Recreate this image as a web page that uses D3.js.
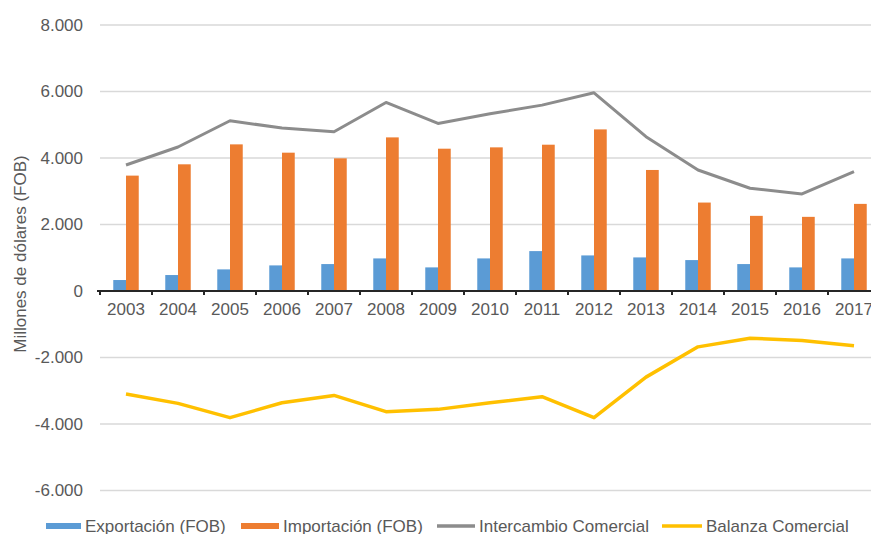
<!DOCTYPE html>
<html>
<head>
<meta charset="utf-8">
<script src="https://cdn.jsdelivr.net/npm/d3@7"></script>
<style>
  body { margin: 0; background: #fff; }
  text { font-family: "Liberation Sans", Arial, sans-serif; fill: #595959; }
</style>
</head>
<body>
<div id="chart"></div>
<script>
// data (millions of USD, FOB)
var years = ['2003','2004','2005','2006','2007','2008','2009','2010','2011','2012','2013','2014','2015','2016','2017'];
var exportacion = [330, 480, 650, 770, 810, 980, 710, 980, 1200, 1070, 1010, 930, 810, 710, 980];
var importacion = [3470, 3810, 4410, 4160, 3990, 4620, 4280, 4320, 4400, 4860, 3640, 2660, 2260, 2230, 2620];
var intercambio = [3790, 4330, 5120, 4900, 4790, 5670, 5040, 5330, 5590, 5960, 4640, 3640, 3090, 2920, 3590];
var balanza = [-3100, -3380, -3810, -3360, -3140, -3630, -3560, -3360, -3180, -3810, -2590, -1680, -1420, -1490, -1650];
var yTicks = [-6000, -4000, -2000, 0, 2000, 4000, 6000, 8000];

var width = 871, height = 534;
var margin = {top: 25, right: -9, bottom: 43.5, left: 100};
var fontSize = '17px';

var svg = d3.select('#chart').append('svg')
    .attr('width', width)
    .attr('height', height);

var x = d3.scaleBand()
    .domain(years)
    .range([margin.left, width - margin.right]);

var y = d3.scaleLinear()
    .domain([-6000, 8000])
    .range([height - margin.bottom, margin.top]);

var locale = d3.formatLocale({decimal: ',', thousands: '.', grouping: [3], currency: ['', ''], minus: '-'});
var fmt = locale.format(',d');

// gridlines
svg.append('g')
    .selectAll('line')
    .data(yTicks.filter(function(d){ return d !== 0; }))
    .join('line')
    .attr('x1', margin.left)
    .attr('x2', width)
    .attr('y1', function(d){ return y(d); })
    .attr('y2', function(d){ return y(d); })
    .attr('stroke', '#d9d9d9')
    .attr('stroke-width', 1.5);

// y tick labels
svg.append('g')
    .selectAll('text')
    .data(yTicks)
    .join('text')
    .attr('x', 83)
    .attr('y', function(d){ return y(d); })
    .attr('dy', '0.35em')
    .attr('text-anchor', 'end')
    .style('font-size', fontSize)
    .text(function(d){ return fmt(d); });

// y axis title
svg.append('text')
    .attr('transform', 'translate(20,' + 254 + ') rotate(-90)')
    .attr('dy', '0.35em')
    .attr('text-anchor', 'middle')
    .style('font-size', fontSize)
    .text('Millones de dólares (FOB)');

// bars
var inner = x.bandwidth() * 0.49;
var barW = inner / 2;
var bars = svg.append('g');
bars.selectAll('.exp')
    .data(exportacion)
    .join('rect')
    .attr('class', 'exp')
    .attr('x', function(d, i){ return x(years[i]) + (x.bandwidth() - inner) / 2; })
    .attr('y', function(d){ return y(d); })
    .attr('width', barW)
    .attr('height', function(d){ return y(0) - y(d); })
    .attr('fill', '#5b9bd5');
bars.selectAll('.imp')
    .data(importacion)
    .join('rect')
    .attr('class', 'imp')
    .attr('x', function(d, i){ return x(years[i]) + (x.bandwidth() - inner) / 2 + barW; })
    .attr('y', function(d){ return y(d); })
    .attr('width', barW)
    .attr('height', function(d){ return y(0) - y(d); })
    .attr('fill', '#ed7d31');

// x axis
var xAxis = d3.axisBottom(x).tickSize(0).tickPadding(12);
var gx = svg.append('g')
    .attr('transform', 'translate(0,' + y(0) + ')')
    .call(xAxis);
gx.select('.domain').attr('stroke', '#262626').attr('stroke-width', 2)
    .attr('d', 'M' + (margin.left - 3) + ',0H' + width);
gx.selectAll('text').style('font-size', fontSize).attr('fill', '#595959');
gx.selectAll('.bnd')
    .data(years)
    .join('line')
    .attr('class', 'bnd')
    .attr('x1', function(d){ return x(d); })
    .attr('x2', function(d){ return x(d); })
    .attr('y1', 0)
    .attr('y2', 4)
    .attr('stroke', '#262626')
    .attr('stroke-width', 2);

// lines
var line = d3.line()
    .x(function(d, i){ return x(years[i]) + x.bandwidth() / 2; })
    .y(function(d){ return y(d); });

svg.append('path')
    .attr('d', line(intercambio))
    .attr('fill', 'none')
    .attr('stroke', '#8c8c8c')
    .attr('stroke-width', 3)
    .attr('stroke-linejoin', 'round');

svg.append('path')
    .attr('d', line(balanza))
    .attr('fill', 'none')
    .attr('stroke', '#ffc000')
    .attr('stroke-width', 3.5)
    .attr('stroke-linejoin', 'round');

// legend
var legend = [
    {name: 'Exportación (FOB)', color: '#5b9bd5', x: 46, w: 35, h: 6},
    {name: 'Importación (FOB)', color: '#ed7d31', x: 241, w: 38, h: 6},
    {name: 'Intercambio Comercial', color: '#8c8c8c', x: 437, w: 38, h: 3.5},
    {name: 'Balanza Comercial', color: '#ffc000', x: 662, w: 40, h: 3.5}
];
var lg = svg.append('g').selectAll('g')
    .data(legend)
    .join('g')
    .attr('transform', function(d){ return 'translate(' + d.x + ',' + 526 + ')'; });
lg.append('rect')
    .attr('x', 0)
    .attr('y', function(d){ return -d.h / 2; })
    .attr('width', function(d){ return d.w; })
    .attr('height', function(d){ return d.h; })
    .attr('fill', function(d){ return d.color; });
lg.append('text')
    .attr('x', function(d){ return d.w + 4; })
    .attr('dy', '0.35em')
    .style('font-size', fontSize)
    .text(function(d){ return d.name; });
</script>
</body>
</html>
